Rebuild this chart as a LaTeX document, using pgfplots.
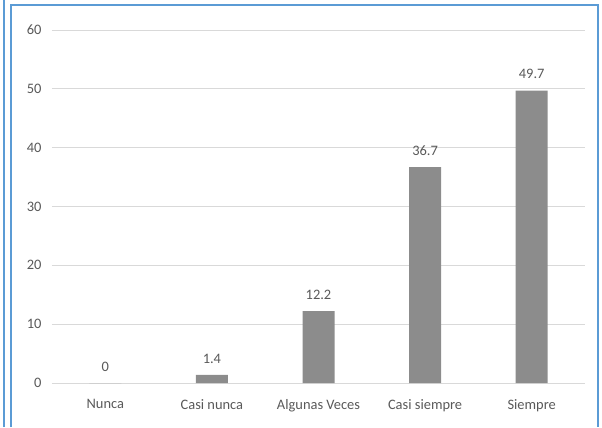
\documentclass[border=0pt]{standalone}
\usepackage{pgfplots}
\pgfplotsset{compat=1.18}
\usepackage{fontspec}
\setmainfont{Carlito}
\definecolor{txt}{HTML}{595959}
\definecolor{barc}{HTML}{8C8C8C}
\definecolor{gridc}{HTML}{D9D9D9}
\definecolor{framec}{HTML}{5B9BD5}
\begin{document}
\begin{tikzpicture}[x=1bp,y=1bp]
\path[use as bounding box] (-52,-44) rectangle (550,383);
\draw[framec,line width=1.6bp] (-41,-44) -- (-41,378) -- (546,378) -- (546,-44);
\draw[framec,line width=1.6bp] (-48,-44) -- (-48,383);
\begin{axis}[
  at={(0,0)}, anchor=south west,
  scale only axis, width=533bp, height=353bp,
  xmin=-0.5, xmax=4.5, ymin=0, ymax=60,
  ybar, bar width=32bp,
  xtick={0,1,2,3,4},
  xticklabels={Nunca,Casi nunca,Algunas Veces,Casi siempre,Siempre},
  ytick={0,10,20,30,40,50,60},
  axis line style={draw=none},
  major tick length=0pt,
  xmajorgrids=false, ymajorgrids=true, major grid style={draw=gridc, line width=0.8bp},
  tick label style={font=\fontsize{14.5}{16}\selectfont, text=txt},
  yticklabel style={xshift=-7bp},
  xticklabel style={yshift=-13bp},
  /pgf/number format/assume math mode=true,
  nodes near coords,
  every node near coord/.append style={font=\fontsize{14.5}{16}\selectfont, text=txt, yshift=8bp},
  clip=false,
]
\addplot[fill=barc, draw=none] coordinates {(0,0) (1,1.4) (2,12.2) (3,36.7) (4,49.7)};
\end{axis}
\end{tikzpicture}
\end{document}
